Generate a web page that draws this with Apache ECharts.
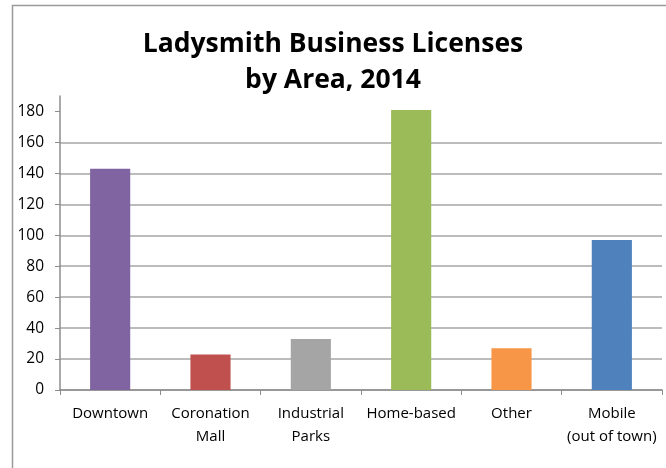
<!DOCTYPE html>
<html><head><meta charset="utf-8">
<script src="https://cdn.jsdelivr.net/npm/echarts@6/dist/echarts.min.js"></script>
<style>html,body{margin:0;padding:0;background:#fff}#c{width:666px;height:468px}</style>
</head><body><div id="c"></div>
<script>
const categories = ['Downtown', 'Coronation\nMall', 'Industrial\nParks', 'Home-based', 'Other', 'Mobile\n(out of town)'];
const values = [143, 23, 33, 181, 27, 97];
const barColors = ['#8064A2', '#C0504D', '#A5A5A5', '#9BBB59', '#F79646', '#4F81BD'];
const yTicks = [0, 20, 40, 60, 80, 100, 120, 140, 160, 180];
const yMax = 190;

const chart = echarts.init(document.getElementById('c'), null, {renderer: 'canvas'});
const font = '"Open Sans", sans-serif';
chart.setOption({
  animation: false,
  graphic: [{type: 'rect', shape: {x: 12.5, y: 5.5, width: 700, height: 500}, style: {fill: 'none', stroke: '#9a9a9a', lineWidth: 1.5}, silent: true}],
  title: {
    text: 'Ladysmith Business Licenses\nby Area, 2014',
    left: 'center', top: 21,
    textStyle: {fontFamily: font, fontWeight: 'bold', fontSize: 26.5, lineHeight: 36, color: '#000'}
  },
  grid: {left: 60, right: 4, top: 96, bottom: 78, containLabel: false},
  xAxis: {
    type: 'category', data: categories,
    axisLine: {lineStyle: {color: '#8c8c8c', width: 1.5}},
    axisTick: {show: true, alignWithLabel: false, length: 5, lineStyle: {color: '#8c8c8c'}},
    axisLabel: {fontFamily: font, fontSize: 15, color: '#000', margin: 12, lineHeight: 23, interval: 0}
  },
  yAxis: {
    type: 'value', min: 0, max: yMax, interval: 20,
    axisLine: {show: true, lineStyle: {color: '#8c8c8c', width: 1.5}},
    axisTick: {show: true, length: 5, lineStyle: {color: '#8c8c8c'}, customValues: yTicks},
    axisLabel: {fontFamily: font, fontSize: 15.5, color: '#000', margin: 16, customValues: yTicks,
      formatter: v => yTicks.includes(v) ? String(v) : ''},
    splitLine: {showMaxLine: false, lineStyle: {color: '#a6a6a6', width: 1.5}}
  },
  series: [{
    type: 'bar', barWidth: '40%',
    data: values.map((v, i) => ({value: v, itemStyle: {color: barColors[i]}}))
  }]
});
</script></body></html>
